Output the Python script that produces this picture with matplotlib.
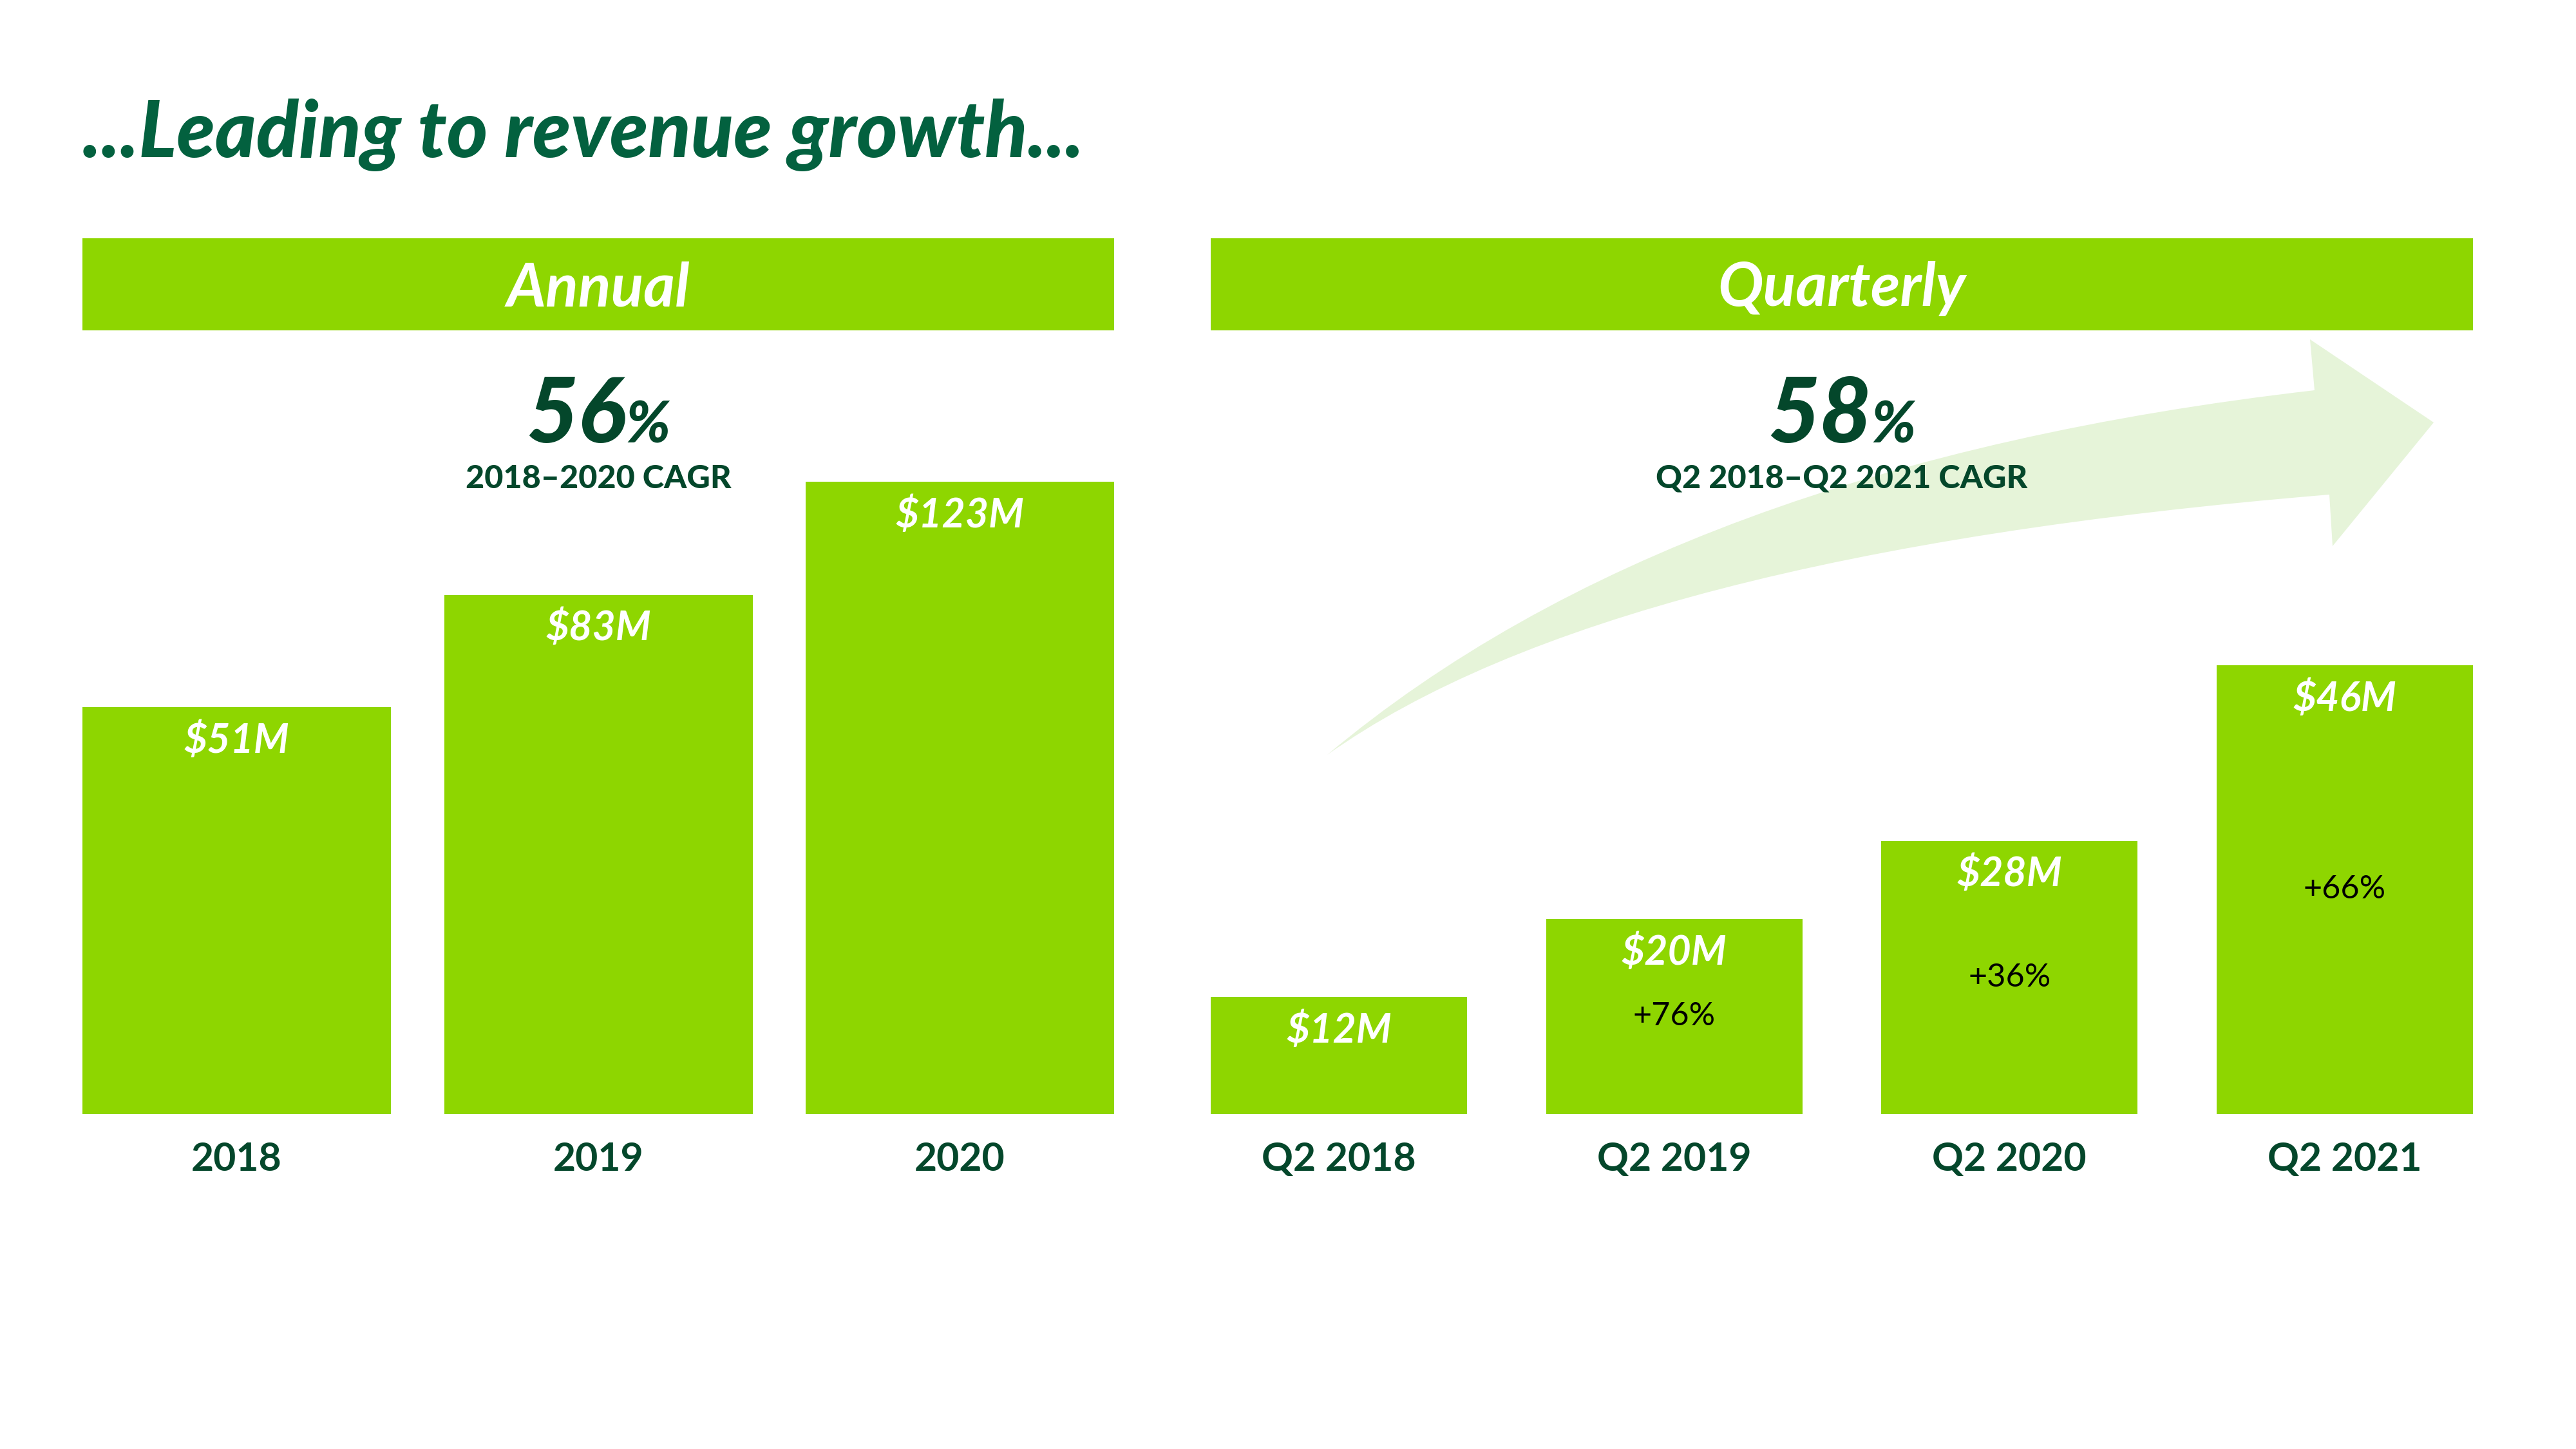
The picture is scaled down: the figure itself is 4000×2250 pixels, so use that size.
import numpy as np
import matplotlib
matplotlib.use("Agg")
import matplotlib.pyplot as plt
from matplotlib.patches import Rectangle, PathPatch
from matplotlib.path import Path
from matplotlib.transforms import Affine2D

plt.rcParams['font.family'] = ['Lato', 'DejaVu Sans']

# data
annual_labels = ['2018', '2019', '2020']
annual_values = [51, 83, 123]
quarter_labels = ['Q2 2018', 'Q2 2019', 'Q2 2020', 'Q2 2021']
quarter_values = [12, 20, 28, 46]
quarter_growth = [None, 76, 36, 66]
annual_cagr = 56
quarter_cagr = 58

LIME = '#8ED600'
TITLE_GREEN = '#03613F'
DARK_GREEN = '#04472B'
ARROW_GREEN = '#E6F4D9'

W, H = 4000, 2250
fig = plt.figure(figsize=(16, 9), dpi=250)
# pixel coords (y down) -> figure
px = Affine2D().scale(1 / W, -1 / H).translate(0, 1) + fig.transFigure

fig.text(128, 244, '...Leading to revenue growth...', transform=px, fontsize=35,
         fontweight='black', fontstyle='italic', color=TITLE_GREEN, va='baseline', ha='left')

# header strips
for x0, x1, name in [(128, 1730, 'Annual'), (1880, 3840, 'Quarterly')]:
    fig.add_artist(Rectangle((x0, 370), x1 - x0, 143, transform=px, facecolor=LIME,
                             edgecolor='none', zorder=1))
    fig.text((x0 + x1) / 2, 448, name, transform=px, fontsize=27, fontweight='bold',
             fontstyle='italic', color='white', ha='center', va='center', zorder=2)

# curved arrow behind quarterly chart
verts = [(2061, 1172), (2600, 720), (3594, 606), (3587, 527), (3779, 656),
         (3622, 848), (3617, 768), (2500, 860), (2061, 1172)]
codes = [Path.MOVETO, Path.CURVE3, Path.CURVE3, Path.LINETO, Path.LINETO,
         Path.LINETO, Path.LINETO, Path.CURVE3, Path.CURVE3]
fig.add_artist(PathPatch(Path(verts, codes), transform=px, facecolor=ARROW_GREEN,
                         edgecolor='none', zorder=0.5))


def big_pct(cx, num):
    r = fig.canvas.get_renderer()
    t1 = fig.text(0, 687, str(num), transform=px, fontsize=40, fontweight='black',
                  fontstyle='italic', color=DARK_GREEN, va='baseline', ha='left', zorder=3)
    t2 = fig.text(0, 687, '%', transform=px, fontsize=26, fontweight='black',
                  fontstyle='italic', color=DARK_GREEN, va='baseline', ha='left', zorder=3)
    w1 = t1.get_window_extent(r).width
    w2 = t2.get_window_extent(r).width
    start = cx - (w1 + w2) / 2
    t1.set_x(start)
    t2.set_x(start + w1)


big_pct(929, annual_cagr)
big_pct(2860, quarter_cagr)
fig.text(929, 758, '2018\u20132020 CAGR', transform=px, fontsize=14.5, fontweight='black',
         color=DARK_GREEN, ha='center', va='baseline', zorder=3)
fig.text(2860, 758, 'Q2 2018\u2013Q2 2021 CAGR', transform=px, fontsize=14.5, fontweight='black',
         color=DARK_GREEN, ha='center', va='baseline', zorder=3)

ax_bottom = 1 - 1730 / H
ax_h = 1217 / H
ax1 = fig.add_axes([128 / W, ax_bottom, 1602 / W, ax_h])
ax2 = fig.add_axes([1880 / W, ax_bottom, 1960 / W, ax_h])

w1 = 479 / 561.5
x1 = np.arange(len(annual_values))
ax1.bar(x1, annual_values, width=w1, color=LIME)
ax1.set_yscale('function', functions=(lambda v: np.sqrt(np.clip(v, 0, None)), np.square))
ax1.set_ylim(0, 189)
ax1.set_xlim(-w1 / 2, len(annual_values) - 1 + w1 / 2)
ax1.set_xticks(x1, annual_labels)

w2 = 398 / 520.3
x2 = np.arange(len(quarter_values))
ax2.bar(x2, quarter_values, width=w2, color=LIME)
ax2.set_ylim(0, 80.3)
ax2.set_xlim(-w2 / 2, len(quarter_values) - 1 + w2 / 2)
ax2.set_xticks(x2, quarter_labels)

for ax, vals in [(ax1, annual_values), (ax2, quarter_values)]:
    ax.patch.set_visible(False)
    for s in ax.spines.values():
        s.set_visible(False)
    ax.set_yticks([])
    ax.tick_params(axis='x', length=0, pad=12, labelsize=17.5, labelcolor=DARK_GREEN)
    for lab in ax.get_xticklabels():
        lab.set_fontweight('bold')
    for i, v in enumerate(vals):
        ax.annotate(f'${v}M', xy=(i, v), xytext=(0, -14.7), textcoords='offset points',
                    ha='center', va='center', fontsize=18, fontweight='bold',
                    fontstyle='italic', color='white')

for i, g in enumerate(quarter_growth):
    if g is not None:
        ax2.text(i, quarter_values[i] / 2, f'+{g}%', ha='center', va='center',
                 fontsize=14.5, color='black')

fig.savefig('out.png', dpi=250, facecolor='white')
